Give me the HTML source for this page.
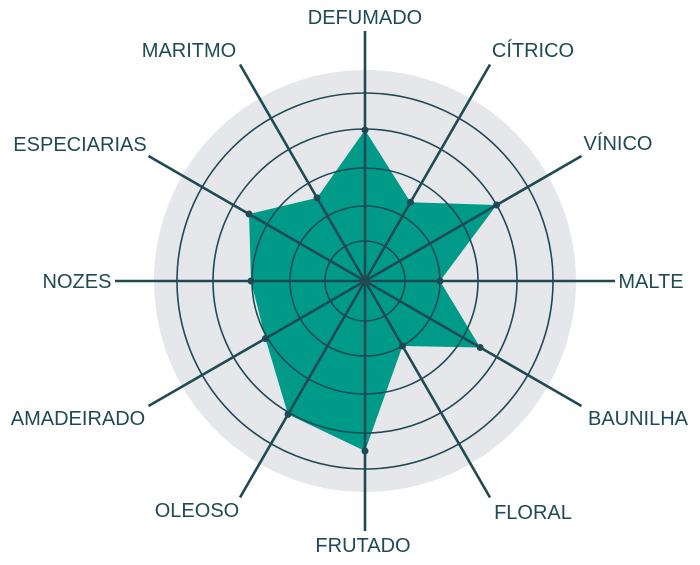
<!DOCTYPE html>
<html><head><meta charset="utf-8"><style>
html,body{margin:0;padding:0;background:#fff;}
svg{display:block;}
text{font-family:"Liberation Sans",sans-serif;font-size:20px;fill:#1f4a55;text-anchor:middle;}
</style></head><body>
<svg width="700" height="565" viewBox="0 0 700 565" xmlns="http://www.w3.org/2000/svg">
<circle cx="365" cy="281" r="211" fill="#e6e7ea"/>
<polygon points="365,130 410.5,202.2 496.6,205 440,281 480.2,347.5 402.5,346 365,451 288,414.4 265.4,338.5 251,281 249,214 317,197.9" fill="#009a88"/>
<g fill="none" stroke="#1f4a55" stroke-width="1.6">
<circle cx="365" cy="281" r="40"/>
<circle cx="365" cy="281" r="75"/>
<circle cx="365" cy="281" r="113"/>
<circle cx="365" cy="281" r="152"/>
<circle cx="365" cy="281" r="188"/>
</g>
<g stroke="#1f4a55" stroke-width="2.6">
<line x1="365" y1="281" x2="365" y2="31"/>
<line x1="365" y1="281" x2="490" y2="64.5"/>
<line x1="365" y1="281" x2="581.5" y2="156"/>
<line x1="365" y1="281" x2="615" y2="281"/>
<line x1="365" y1="281" x2="581.5" y2="406"/>
<line x1="365" y1="281" x2="490" y2="497.5"/>
<line x1="365" y1="281" x2="365" y2="531"/>
<line x1="365" y1="281" x2="240" y2="497.5"/>
<line x1="365" y1="281" x2="148.5" y2="406"/>
<line x1="365" y1="281" x2="115" y2="281"/>
<line x1="365" y1="281" x2="148.5" y2="156"/>
<line x1="365" y1="281" x2="240" y2="64.5"/>
</g>
<g fill="#1f4a55">
<circle cx="365" cy="130" r="3.5"/><circle cx="410.5" cy="202.2" r="3.5"/><circle cx="496.6" cy="205" r="3.5"/>
<circle cx="440" cy="281" r="3.5"/><circle cx="480.2" cy="347.5" r="3.5"/><circle cx="402.5" cy="346" r="3.5"/>
<circle cx="365" cy="451" r="3.5"/><circle cx="288" cy="414.4" r="3.5"/><circle cx="265.4" cy="338.5" r="3.5"/>
<circle cx="251" cy="281" r="3.5"/><circle cx="249" cy="214" r="3.5"/><circle cx="317" cy="197.9" r="3.5"/>
<circle cx="365" cy="281" r="4"/>
</g>
<text x="365" y="24">DEFUMADO</text>
<text x="189" y="57">MARITMO</text>
<text x="533" y="57">CÍTRICO</text>
<text x="80" y="151">ESPECIARIAS</text>
<text x="618" y="150">VÍNICO</text>
<text x="77" y="288">NOZES</text>
<text x="651" y="288">MALTE</text>
<text x="78" y="425">AMADEIRADO</text>
<text x="638" y="425">BAUNILHA</text>
<text x="197" y="517">OLEOSO</text>
<text x="533" y="519">FLORAL</text>
<text x="363" y="552">FRUTADO</text>
</svg>
</body></html>
